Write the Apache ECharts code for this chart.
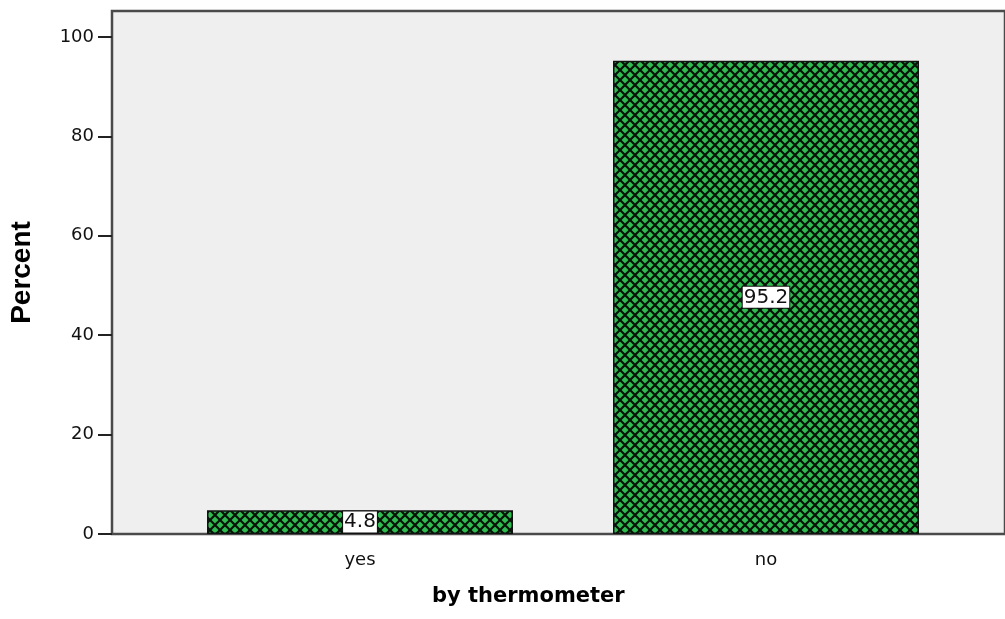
<!DOCTYPE html>
<html>
<head>
<meta charset="utf-8">
<script src="https://cdn.jsdelivr.net/npm/echarts@6/dist/echarts.min.js"></script>
<style>
  html, body { margin: 0; padding: 0; background: #fff; }
  #chart { width: 1005px; height: 619px; }
</style>
</head>
<body>
<div id="chart"></div>
<script>
// data
var categories = ['yes', 'no'];
var percents = [4.8, 95.2];
var yTicks = [0, 20, 40, 60, 80, 100];

// crosshatch fill, like the SPSS pattern
function hatch() {
  var c = document.createElement('canvas');
  c.width = 10; c.height = 10;
  var ctx = c.getContext('2d');
  ctx.fillStyle = '#2fbb4f';
  ctx.fillRect(0, 0, 10, 10);
  ctx.strokeStyle = '#061208';
  ctx.lineWidth = 2.2;
  ctx.beginPath();
  ctx.moveTo(-1, -1); ctx.lineTo(11, 11);
  ctx.moveTo(11, -1); ctx.lineTo(-1, 11);
  ctx.stroke();
  return c;
}

var myChart = echarts.init(document.getElementById('chart'));

var options = {
  animation: false,
  title: {
    text: 'by thermometer',
    left: 432,
    top: 586,
    padding: 0,
    textStyle: { fontFamily: 'DejaVu Sans', fontWeight: 'bold', fontSize: 21, color: '#000' }
  },
  grid: [
    // frame + background (runs off the right edge)
    { left: 112, top: 11, width: 904, bottom: 85, show: true,
      backgroundColor: '#efefef', borderColor: '#4a4a4a', borderWidth: 2.5 },
    // the bars
    { left: 157, top: 11, width: 812, bottom: 85 }
  ],
  xAxis: [
    { gridIndex: 0, type: 'value', show: false },
    {
      gridIndex: 1,
      type: 'category',
      data: categories,
      axisLine: { show: false },
      axisTick: { alignWithLabel: true, length: 9, lineStyle: { color: '#222', width: 2 } },
      axisLabel: { fontFamily: 'DejaVu Sans', fontSize: 18, color: '#111', margin: 17 }
    }
  ],
  yAxis: [
    { gridIndex: 0, type: 'value', show: false },
    {
      gridIndex: 1,
      type: 'value',
      min: 0,
      max: 105.2,
      offset: 45,
      splitLine: { show: false },
      axisLine: { show: false },
      axisTick: { show: true, length: 14, customValues: yTicks, lineStyle: { color: '#222', width: 2 } },
      axisLabel: { customValues: yTicks, fontFamily: 'DejaVu Sans', fontSize: 18, color: '#111', margin: 18 },
      name: 'Percent',
      nameLocation: 'middle',
      nameGap: 76,
      nameTextStyle: { fontFamily: 'Liberation Sans', fontWeight: 'bold', fontSize: 28, color: '#000' }
    }
  ],
  series: [
    {
      type: 'bar',
      xAxisIndex: 1,
      yAxisIndex: 1,
      data: percents,
      barWidth: 306,
      itemStyle: {
        color: { image: hatch(), repeat: 'repeat' },
        borderColor: '#111',
        borderWidth: 1.5
      },
      label: {
        show: true,
        position: 'inside',
        fontFamily: 'DejaVu Sans',
        fontSize: 20,
        color: '#111',
        backgroundColor: '#fff',
        borderColor: '#111',
        borderWidth: 1,
        padding: [1, 1, 0, 1]
      }
    }
  ]
};

myChart.setOption(options);
</script>
</body>
</html>
